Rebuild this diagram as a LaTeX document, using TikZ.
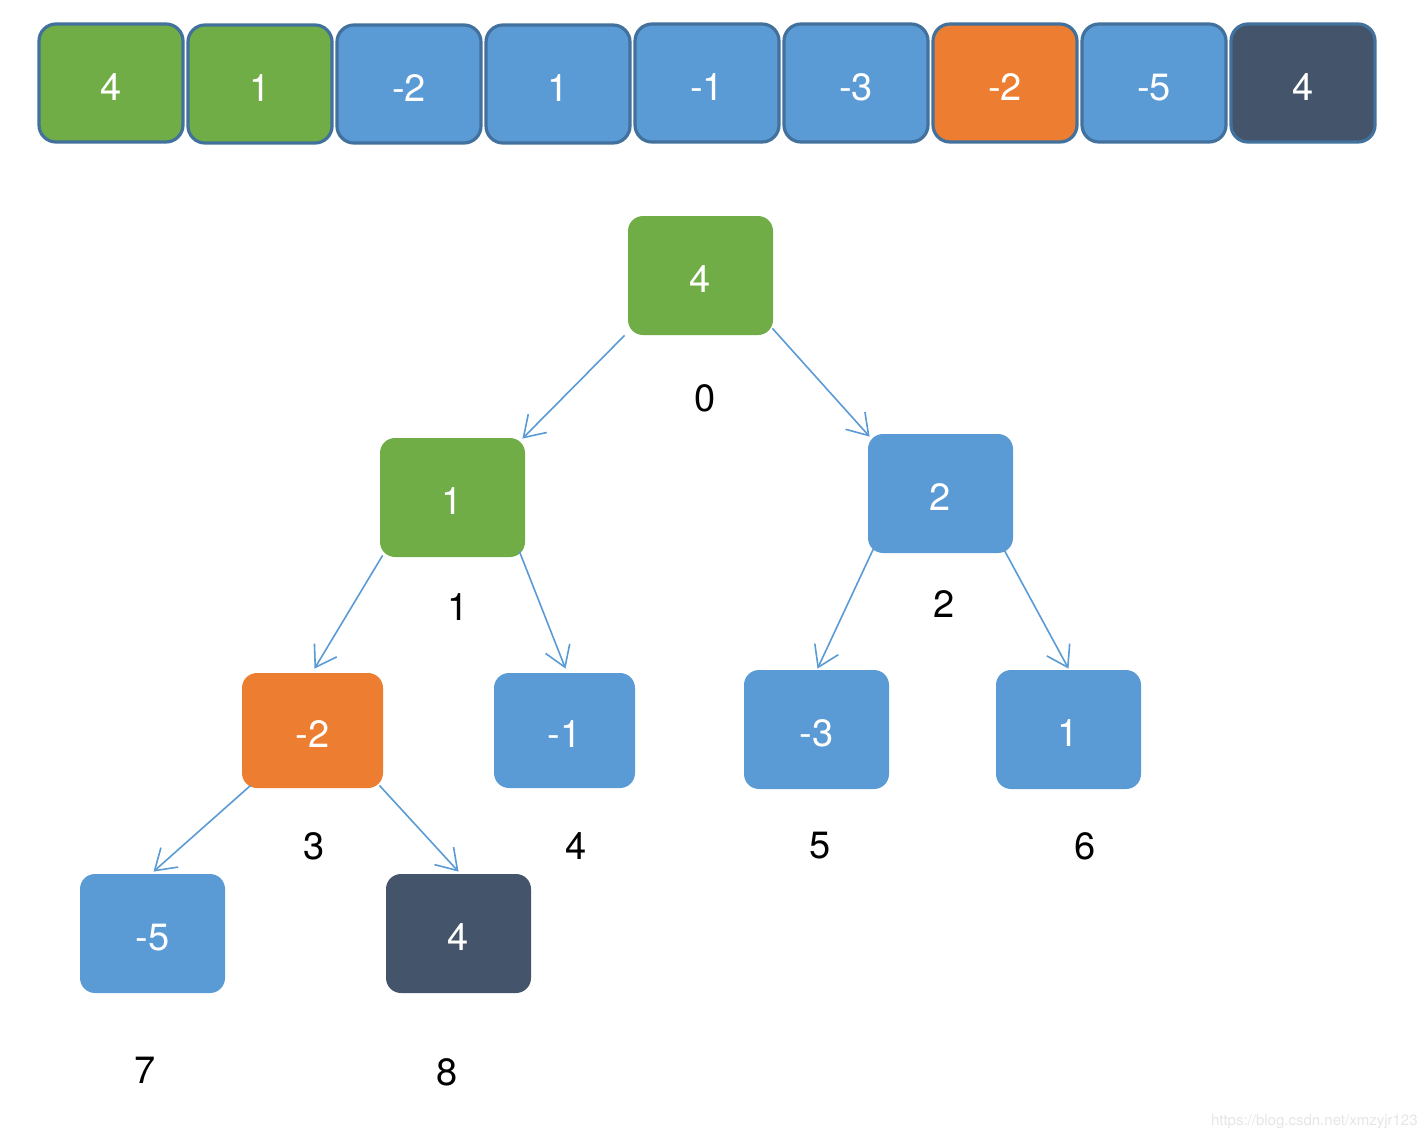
\documentclass[tikz,border=0pt]{standalone}
\usepackage{fontspec}
\setmainfont{TeX Gyre Heros}
\usetikzlibrary{arrows.meta}
\definecolor{cgreen}{HTML}{70AD47}
\definecolor{cblue}{HTML}{5B9BD5}
\definecolor{corange}{HTML}{ED7D31}
\definecolor{cdark}{HTML}{44546A}
\definecolor{cborder}{HTML}{41719C}
\definecolor{cwm}{HTML}{E6E6E6}
\tikzset{
  cell/.style={draw=cborder, line width=1.6pt, rounded corners=8.5pt, minimum width=72pt, minimum height=59pt, text=white, font=\fontsize{19}{20}\selectfont, inner sep=0pt, text height=17pt, text depth=0pt},
  tnode/.style={rounded corners=7.5pt, minimum width=72.5pt, minimum height=59.5pt, text=white, font=\fontsize{19}{20}\selectfont, inner sep=0pt, text height=17pt, text depth=0pt},
  lbl/.style={text=black, font=\fontsize{19}{20}\selectfont, inner sep=0pt},
  edge/.style={draw=cblue, line width=0.8pt, -{Straight Barb[length=10pt,width=13pt,line width=0.8pt]}}
}
\begin{document}
\begin{tikzpicture}[x=0.5pt,y=-0.5pt]
\useasboundingbox[fill=white] (0,0) rectangle (1428,1140);
% top array
\node[cell, fill=cgreen] (a0) at (111,83) {4};
\node[cell, fill=cgreen] (a1) at (260,84) {1};
\node[cell, fill=cblue] (a2) at (409,84) {-2};
\node[cell, fill=cblue] (a3) at (558,84) {1};
\node[cell, fill=cblue] (a4) at (707,83) {-1};
\node[cell, fill=cblue] (a5) at (856,83) {-3};
\node[cell, fill=corange] (a6) at (1005,83) {-2};
\node[cell, fill=cblue] (a7) at (1154,83) {-5};
\node[cell, fill=cdark] (a8) at (1303,83) {4};
% tree
\node[tnode, fill=cgreen] (n0) at (700.5,275.5) {4};
\node[tnode, fill=cgreen] (n1) at (452.5,497.5) {1};
\node[tnode, fill=cblue] (n2) at (940.5,493.5) {2};
\node[tnode, fill=corange, minimum width=70.5pt, minimum height=57.5pt] (n3) at (312.5,730.5) {-2};
\node[tnode, fill=cblue, minimum width=70.5pt, minimum height=57.5pt] (n4) at (564.5,730.5) {-1};
\node[tnode, fill=cblue] (n5) at (816.5,729.5) {-3};
\node[tnode, fill=cblue] (n6) at (1068.5,729.5) {1};
\node[tnode, fill=cblue] (n7) at (152.5,933.5) {-5};
\node[tnode, fill=cdark] (n8) at (458.5,933.5) {4};
% index labels
\node[lbl] (l0) at (705,398) {0};
\node[lbl] (l1) at (458,607) {1};
\node[lbl] (l2) at (944,604) {2};
\node[lbl] (l3) at (314,846) {3};
\node[lbl] (l4) at (576,846) {4};
\node[lbl] (l5) at (820,846) {5};
\node[lbl] (l6) at (1085,846) {6};
\node[lbl] (l7) at (145,1070) {7};
\node[lbl] (l8) at (447,1072) {8};
% edges
\draw[edge] ([shift={(-3,0)}]n0.south west) -- ([shift={(-3,1)}]n1.north east);
\draw[edge] ([shift={(-1,-7)}]n0.south east) -- ([shift={(2,3)}]n2.north west);
\draw[edge] ([shift={(3,-2)}]n1.south west) -- ([shift={(2,-4)}]n3.north);
\draw[edge] ([shift={(-6,-6)}]n1.south east) -- ([shift={(1,-4)}]n4.north);
\draw[edge] ([shift={(6,-5)}]n2.south west) -- ([shift={(1,-1)}]n5.north);
\draw[edge] ([shift={(-9,-3)}]n2.south east) -- ([shift={(0,-1)}]n6.north);
\draw[edge] ([shift={(9,-3)}]n3.south west) -- ([shift={(1,-2)}]n7.north);
\draw[edge] ([shift={(-4,-3)}]n3.south east) -- ([shift={(0,-2)}]n8.north);
% watermark
\node[text=cwm, font=\fontsize{7.5}{8}\selectfont, anchor=east, inner sep=0pt] (wm) at (1418,1122) {https://blog.csdn.net/xmzyjr123};
\end{tikzpicture}
\end{document}
